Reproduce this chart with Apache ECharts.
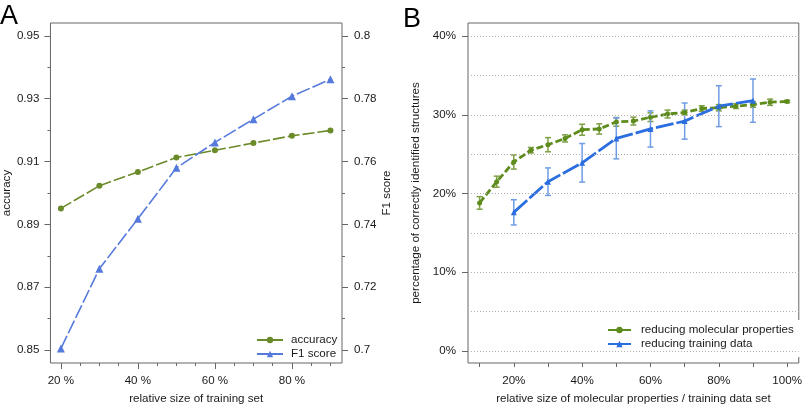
<!DOCTYPE html>
<html>
<head>
<meta charset="utf-8">
<script src="https://cdn.jsdelivr.net/npm/echarts@6/dist/echarts.min.js"></script>
<style>
html,body{margin:0;padding:0;background:#fff;}
#chart{width:805px;height:410px;}
</style>
</head>
<body>
<div id="chart"></div>
<script>
// ---------- Panel A data ----------
const trainSizeA = [20, 30, 40, 50, 60, 70, 80, 90];
const accuracy   = [0.8951, 0.9023, 0.9067, 0.9113, 0.9136, 0.9159, 0.9182, 0.9199];
const f1Score    = [0.7005, 0.7259, 0.7418, 0.7580, 0.7661, 0.7735, 0.7808, 0.7862];

const xLabelsA      = [20, 40, 60, 80];
const xMinorTicksA  = [25, 30, 35, 45, 50, 55, 65, 70, 75, 85, 90];
const accLabels     = [0.85, 0.87, 0.89, 0.91, 0.93, 0.95];
const accMinorTicks = [0.86, 0.88, 0.90, 0.92, 0.94];
const f1Labels      = [0.70, 0.72, 0.74, 0.76, 0.78, 0.80];
const f1MinorTicks  = [0.71, 0.73, 0.75, 0.77, 0.79];

// ---------- Panel B data ----------
const propSize = [10, 15, 20, 25, 30, 35, 40, 45, 50, 55, 60, 65, 70, 75, 80, 85, 90, 95, 100];
const propMean = [18.8, 21.5, 24.0, 25.5, 26.2, 27.0, 28.1, 28.2, 29.1, 29.2, 29.7, 30.1, 30.3, 30.8, 30.9, 31.1, 31.3, 31.6, 31.7];
const propErr  = [0.8, 0.7, 0.9, 0.35, 0.9, 0.45, 0.7, 0.65, 0.55, 0.5, 0.55, 0.5, 0.3, 0.35, 0.4, 0.3, 0.35, 0.4, 0.15];

const dataSize = [20, 30, 40, 50, 60, 70, 80, 90];
const dataMean = [17.6, 21.5, 23.9, 27.0, 28.2, 29.2, 31.1, 31.8];
const dataErr  = [1.6, 1.75, 2.45, 2.6, 2.3, 2.3, 2.6, 2.75];

const xTicksB    = [10, 20, 30, 40, 50, 60, 70, 80, 90, 100];
const xLabelsB   = [20, 40, 60, 80, 100];
const yLabelsB   = [0, 10, 20, 30, 40];
const yGridB     = [0, 5, 10, 15, 20, 25, 30, 35, 40];

// ---------- styles ----------
const FONT = 'Liberation Sans, Arial, Helvetica, sans-serif';
const TXT = '#1a1a1a';
const FRAME = '#666';
const greenA = '#6b8a2a';
const blueA  = '#5679dc';
const greenB = '#5e8c1c';
const blueB  = '#2a6ee0';
const greenErr = '#7f9f45';
const blueErr  = '#6f9ce6';

const chart = echarts.init(document.getElementById('chart'), null, {renderer: 'canvas'});

function errorBars(color) {
  return function (params, api) {
    const x = api.value(0);
    const lo = api.coord([x, api.value(1)]);
    const hi = api.coord([x, api.value(2)]);
    const c = 3;
    const st = {stroke: color, lineWidth: 1.5};
    return {
      type: 'group',
      children: [
        {type: 'line', shape: {x1: lo[0], y1: lo[1], x2: hi[0], y2: hi[1]}, style: st},
        {type: 'line', shape: {x1: lo[0] - c, y1: lo[1], x2: lo[0] + c, y2: lo[1]}, style: st},
        {type: 'line', shape: {x1: hi[0] - c, y1: hi[1], x2: hi[0] + c, y2: hi[1]}, style: st}
      ]
    };
  };
}

const lbl = {fontSize: 11.6, color: TXT, fontFamily: FONT};
const nameStyle = {fontSize: 11.6, color: TXT, fontFamily: FONT};

const option = {
  animation: false,
  textStyle: {fontFamily: FONT},
  title: [
    {text: 'A', left: 0, top: 3, padding: 0, textStyle: {fontSize: 27, fontWeight: 'normal', color: '#000', fontFamily: FONT}},
    {text: 'B', left: 403, top: 6, padding: 0, textStyle: {fontSize: 27, fontWeight: 'normal', color: '#000', fontFamily: FONT}}
  ],
  grid: [
    {left: 45, top: 23, width: 297, height: 345, show: true, borderColor: FRAME, borderWidth: 1, backgroundColor: 'transparent'},
    {left: 468, top: 23, width: 332, height: 345, show: true, borderColor: FRAME, borderWidth: 1, backgroundColor: 'transparent'}
  ],
  legend: [
    {
      data: ['accuracy', 'F1 score'],
      orient: 'vertical', left: 256, top: 334, padding: 0,
      itemWidth: 26, itemHeight: 8, itemGap: 2,
      lineStyle: {type: 'solid'},
      textStyle: {fontSize: 11.6, color: TXT, fontFamily: FONT, padding: [0, 0, 0, 3]}
    },
    {
      data: ['reducing molecular properties', 'reducing training data'],
      orient: 'vertical', left: 603, top: 320,
      padding: [4, 10, 7, 4],
      backgroundColor: '#fff',
      itemWidth: 23, itemHeight: 8, itemGap: 2,
      lineStyle: {type: 'solid'},
      textStyle: {fontSize: 11.6, color: TXT, fontFamily: FONT, padding: [0, 0, 0, 5]}
    }
  ],
  xAxis: [
    {
      gridIndex: 0, type: 'value', min: 17.3, max: 93, position: 'bottom',
      name: 'relative size of training set', nameLocation: 'middle', nameGap: 30, nameTextStyle: nameStyle,
      axisLine: {show: false, onZero: false}, splitLine: {show: false},
      axisTick: {show: true, length: 6, customValues: xLabelsA, lineStyle: {color: FRAME}},
      axisLabel: {customValues: xLabelsA, formatter: '{value} %', margin: 12, ...lbl}
    },
    {
      gridIndex: 0, type: 'value', min: 17.3, max: 93, position: 'bottom',
      axisLine: {show: false, onZero: false}, splitLine: {show: false},
      axisTick: {show: true, length: 3, customValues: xMinorTicksA, lineStyle: {color: FRAME}},
      axisLabel: {show: false}
    },
    {
      gridIndex: 1, type: 'value', min: 6.6, max: 103.4, position: 'bottom',
      name: 'relative size of molecular properties / training data set', nameLocation: 'middle', nameGap: 30, nameTextStyle: nameStyle,
      axisLine: {show: false, onZero: false}, splitLine: {show: false},
      axisTick: {show: true, length: 4, customValues: xTicksB, lineStyle: {color: FRAME}},
      axisLabel: {customValues: xLabelsB, formatter: '{value}%', margin: 12, ...lbl}
    }
  ],
  yAxis: [
    {
      gridIndex: 0, type: 'value', min: 0.8459, max: 0.9541, position: 'left',
      name: 'accuracy', nameLocation: 'middle', nameGap: 35, nameTextStyle: nameStyle,
      axisLine: {show: false, onZero: false}, splitLine: {show: false},
      axisTick: {show: true, length: 6, customValues: accLabels, lineStyle: {color: FRAME}},
      axisLabel: {customValues: accLabels, margin: 11, ...lbl}
    },
    {
      gridIndex: 0, type: 'value', min: 0.8459, max: 0.9541, position: 'left',
      axisLine: {show: false, onZero: false}, splitLine: {show: false},
      axisTick: {show: true, length: 3, customValues: accMinorTicks, lineStyle: {color: FRAME}},
      axisLabel: {show: false}
    },
    {
      gridIndex: 0, type: 'value', min: 0.6959, max: 0.8041, position: 'right',
      name: 'F1 score', nameLocation: 'middle', nameGap: 33, nameTextStyle: nameStyle,
      axisLine: {show: false, onZero: false}, splitLine: {show: false},
      axisTick: {show: true, length: 6, customValues: f1Labels, lineStyle: {color: FRAME}},
      axisLabel: {customValues: f1Labels, margin: 12, ...lbl}
    },
    {
      gridIndex: 0, type: 'value', min: 0.6959, max: 0.8041, position: 'right',
      axisLine: {show: false, onZero: false}, splitLine: {show: false},
      axisTick: {show: true, length: 3, customValues: f1MinorTicks, lineStyle: {color: FRAME}},
      axisLabel: {show: false}
    },
    {
      gridIndex: 1, type: 'value', min: -1.55, max: 41.67, position: 'left',
      name: 'percentage of correctly identified structures', nameLocation: 'middle', nameGap: 46, nameTextStyle: nameStyle,
      axisLine: {show: false, onZero: false}, splitLine: {show: false},
      axisTick: {show: true, length: 6, customValues: yLabelsB, lineStyle: {color: FRAME}},
      axisLabel: {customValues: yLabelsB, formatter: '{value}%', margin: 12, ...lbl}
    }
  ],
  series: [
    {
      name: 'accuracy', type: 'line', xAxisIndex: 0, yAxisIndex: 0,
      data: trainSizeA.map((x, i) => [x, accuracy[i]]),
      symbol: 'circle', symbolSize: 6,
      lineStyle: {color: greenA, width: 1.6, type: [12, 3]},
      itemStyle: {color: greenA}, z: 3
    },
    {
      name: 'F1 score', type: 'line', xAxisIndex: 0, yAxisIndex: 2,
      data: trainSizeA.map((x, i) => [x, f1Score[i]]),
      symbol: 'triangle', symbolSize: 8,
      lineStyle: {color: blueA, width: 1.6, type: [14, 3]},
      itemStyle: {color: blueA}, z: 3
    },
    {
      name: 'gridB', type: 'line', xAxisIndex: 2, yAxisIndex: 4, data: [],
      silent: true, z: 1,
      markLine: {
        silent: true, symbol: ['none', 'none'], label: {show: false},
        lineStyle: {color: '#b0b0b0', type: [1, 2], width: 1},
        emphasis: {disabled: true},
        data: yGridB.map(v => ({yAxis: v}))
      }
    },
    {
      name: 'propErr', type: 'custom', xAxisIndex: 2, yAxisIndex: 4,
      renderItem: errorBars(greenErr),
      encode: {x: 0, y: [1, 2]},
      data: propSize.map((x, i) => [x, propMean[i] - propErr[i], propMean[i] + propErr[i]]),
      z: 2
    },
    {
      name: 'dataErr', type: 'custom', xAxisIndex: 2, yAxisIndex: 4,
      renderItem: errorBars(blueErr),
      encode: {x: 0, y: [1, 2]},
      data: dataSize.map((x, i) => [x, dataMean[i] - dataErr[i], dataMean[i] + dataErr[i]]),
      z: 2
    },
    {
      name: 'reducing molecular properties', type: 'line', xAxisIndex: 2, yAxisIndex: 4,
      data: propSize.map((x, i) => [x, propMean[i]]),
      symbol: 'circle', symbolSize: 5,
      lineStyle: {color: greenB, width: 2.8, type: [7, 3]},
      itemStyle: {color: greenB}, z: 3
    },
    {
      name: 'reducing training data', type: 'line', xAxisIndex: 2, yAxisIndex: 4,
      data: dataSize.map((x, i) => [x, dataMean[i]]),
      symbol: 'triangle', symbolSize: 6,
      lineStyle: {color: blueB, width: 2.8, type: [18, 3]},
      itemStyle: {color: blueB}, z: 3
    }
  ]
};
chart.setOption(option);
</script>
</body>
</html>
